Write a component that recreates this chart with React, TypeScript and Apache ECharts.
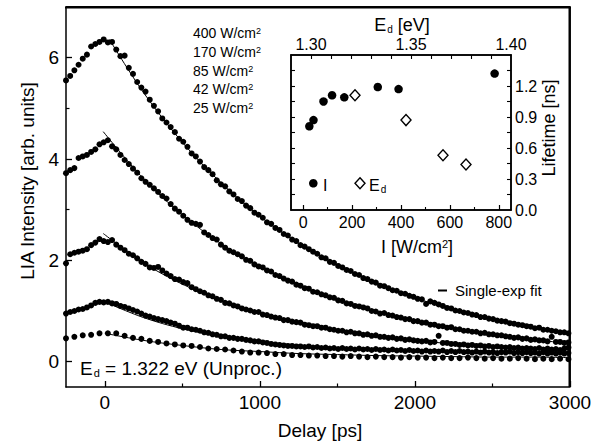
import { useEffect, useRef } from "react";
import * as echarts from "echarts";

const FONT = '"Liberation Sans", Arial, Helvetica, sans-serif';

// Delay grid (ps) of the four dense curves
const delays = [
  -250, -223, -196, -169, -142, -115, -88, -61, -34, -7,
  20, 47, 74, 101, 128, 155, 182, 209, 236, 263,
  290, 317, 344, 371, 398, 425, 452, 479, 506, 533,
  560, 587, 614, 641, 668, 695, 722, 749, 776, 803,
  830, 857, 884, 911, 938, 965, 992, 1019, 1046, 1073,
  1100, 1127, 1154, 1181, 1208, 1235, 1262, 1289, 1316, 1343,
  1370, 1397, 1424, 1451, 1478, 1505, 1532, 1559, 1586, 1613,
  1640, 1667, 1694, 1721, 1748, 1775, 1802, 1829, 1856, 1883,
  1910, 1937, 1964, 1991, 2018, 2045, 2072, 2099, 2126, 2153,
  2180, 2207, 2234, 2261, 2288, 2315, 2342, 2369, 2396, 2423,
  2450, 2477, 2504, 2531, 2558, 2585, 2612, 2639, 2666, 2693,
  2720, 2747, 2774, 2801, 2828, 2855, 2882, 2909, 2936, 2963,
  2990,
];

// Delay grid (ps) of the 25 W/cm2 curve
const delaysSparse = [
  -250, -196, -142, -88, -34, 20, 74, 128, 182, 236,
  290, 344, 398, 452, 506, 560, 614, 668, 722, 776,
  830, 884, 938, 992, 1046, 1100, 1154, 1208, 1262, 1316,
  1370, 1424, 1478, 1532, 1586, 1640, 1694, 1748, 1802, 1856,
  1910, 1964, 2018, 2072, 2126, 2180, 2234, 2288, 2342, 2396,
  2450, 2504, 2558, 2612, 2666, 2720, 2774, 2828, 2882, 2936,
  2990,
];

const lia400 = [
  5.55, 5.64, 5.75, 5.86, 5.98, 6.06, 6.22, 6.27, 6.31, 6.36,
  6.30, 6.31, 6.16, 6.03, 6.04, 5.80, 5.68, 5.52, 5.41, 5.33,
  5.17, 5.05, 4.94, 4.80, 4.72, 4.63, 4.53, 4.40, 4.34, 4.24,
  4.11, 4.05, 3.95, 3.84, 3.78, 3.70, 3.58, 3.50, 3.46, 3.36,
  3.30, 3.21, 3.17, 3.08, 3.03, 2.94, 2.90, 2.84, 2.75, 2.72,
  2.64, 2.60, 2.52, 2.49, 2.41, 2.38, 2.30, 2.27, 2.22, 2.17,
  2.13, 2.06, 2.04, 1.97, 1.95, 1.89, 1.86, 1.81, 1.79, 1.73,
  1.71, 1.65, 1.63, 1.58, 1.56, 1.50, 1.49, 1.45, 1.41, 1.40,
  1.35, 1.34, 1.30, 1.28, 1.24, 1.23, 1.14, 1.19, 1.16, 1.13,
  1.10, 1.06, 1.05, 1.01, 1.00, 0.97, 0.96, 0.93, 0.92, 0.88,
  0.88, 0.85, 0.84, 0.81, 0.80, 0.79, 0.76, 0.75, 0.73, 0.72,
  0.70, 0.69, 0.66, 0.67, 0.63, 0.63, 0.61, 0.60, 0.58, 0.58,
  0.56,
];

const lia170 = [
  3.72, 3.78, 3.82, 4.02, 4.05, 4.08, 4.14, 4.19, 4.29, 4.33,
  4.37, 4.25, 4.19, 4.08, 3.98, 3.90, 3.81, 3.73, 3.62, 3.55,
  3.49, 3.42, 3.35, 3.27, 3.22, 3.11, 3.02, 2.96, 2.88, 2.80,
  2.74, 2.72, 2.70, 2.55, 2.50, 2.44, 2.41, 2.31, 2.25, 2.19,
  2.16, 2.12, 2.08, 2.01, 1.99, 1.92, 1.88, 1.86, 1.80, 1.78,
  1.71, 1.69, 1.64, 1.60, 1.58, 1.52, 1.50, 1.45, 1.44, 1.38,
  1.37, 1.33, 1.31, 1.27, 1.26, 1.21, 1.20, 1.15, 1.14, 1.10,
  1.09, 1.07, 1.05, 1.00, 0.99, 0.95, 0.96, 0.92, 0.91, 0.88,
  0.87, 0.84, 0.84, 0.80, 0.80, 0.77, 0.77, 0.73, 0.73, 0.70,
  0.70, 0.67, 0.68, 0.64, 0.64, 0.61, 0.61, 0.59, 0.59, 0.56,
  0.57, 0.54, 0.54, 0.52, 0.52, 0.50, 0.49, 0.47, 0.48, 0.45,
  0.46, 0.43, 0.44, 0.42, 0.42, 0.40, 0.49, 0.39, 0.39, 0.37,
  0.38,
];

const lia85 = [
  1.94, 2.12, 2.15, 2.17, 2.19, 2.22, 2.30, 2.35, 2.42, 2.38,
  2.36, 2.40, 2.31, 2.25, 2.20, 2.13, 2.10, 2.04, 1.97, 1.93,
  1.86, 1.85, 1.87, 1.80, 1.74, 1.69, 1.63, 1.62, 1.57, 1.55,
  1.47, 1.43, 1.39, 1.36, 1.31, 1.29, 1.24, 1.22, 1.16, 1.15,
  1.11, 1.09, 1.05, 1.03, 1.01, 0.98, 0.98, 0.93, 0.92, 0.89,
  0.87, 0.86, 0.82, 0.82, 0.79, 0.78, 0.77, 0.73, 0.72, 0.70,
  0.70, 0.67, 0.67, 0.64, 0.63, 0.61, 0.61, 0.58, 0.59, 0.56,
  0.56, 0.53, 0.54, 0.51, 0.52, 0.49, 0.49, 0.47, 0.48, 0.45,
  0.46, 0.43, 0.44, 0.42, 0.41, 0.40, 0.41, 0.38, 0.39, 0.51,
  0.37, 0.37, 0.35, 0.35, 0.33, 0.34, 0.32, 0.33, 0.31, 0.32,
  0.30, 0.31, 0.29, 0.30, 0.29, 0.28, 0.29, 0.27, 0.28, 0.26,
  0.27, 0.26, 0.25, 0.27, 0.24, 0.26, 0.24, 0.25, 0.23, 0.26,
  0.28,
];

const lia42 = [
  0.95, 0.98, 1.00, 1.03, 1.04, 1.07, 1.11, 1.16, 1.18, 1.17,
  1.18, 1.15, 1.14, 1.10, 1.08, 1.05, 1.02, 0.99, 0.95, 0.91,
  0.89, 0.86, 0.84, 0.82, 0.80, 0.77, 0.75, 0.71, 0.67, 0.67,
  0.64, 0.63, 0.61, 0.58, 0.57, 0.54, 0.53, 0.50, 0.50, 0.47,
  0.47, 0.45, 0.45, 0.43, 0.42, 0.40, 0.40, 0.38, 0.37, 0.35,
  0.34, 0.33, 0.32, 0.31, 0.31, 0.30, 0.30, 0.29, 0.30, 0.28,
  0.29, 0.27, 0.28, 0.26, 0.27, 0.25, 0.27, 0.25, 0.26, 0.24,
  0.26, 0.24, 0.25, 0.23, 0.25, 0.23, 0.24, 0.22, 0.24, 0.22,
  0.23, 0.21, 0.23, 0.21, 0.22, 0.20, 0.22, 0.20, 0.21, 0.20,
  0.22, 0.19, 0.21, 0.19, 0.21, 0.19, 0.20, 0.18, 0.20, 0.18,
  0.20, 0.18, 0.19, 0.17, 0.19, 0.18, 0.20, 0.17, 0.19, 0.17,
  0.19, 0.17, 0.18, 0.16, 0.19, 0.16, 0.18, 0.16, 0.18, 0.16,
  0.17,
];

const lia25 = [
  0.46, 0.49, 0.52, 0.53, 0.56, 0.56, 0.56, 0.51, 0.47, 0.45,
  0.41, 0.39, 0.36, 0.34, 0.32, 0.31, 0.29, 0.26, 0.25, 0.24,
  0.22, 0.20, 0.18, 0.18, 0.17, 0.15, 0.15, 0.13, 0.13, 0.12,
  0.12, 0.11, 0.11, 0.10, 0.11, 0.10, 0.09, 0.10, 0.09, 0.09,
  0.08, 0.09, 0.08, 0.08, 0.07, 0.08, 0.07, 0.07, 0.08, 0.07,
  0.06, 0.07, 0.06, 0.06, 0.07, 0.06, 0.05, 0.06, 0.05, 0.06,
  0.05,
];

// Single-exponential fit curves
const fitDelays = [0, 250, 500, 750, 1000, 1250, 1500, 1750, 2000, 2250, 2500, 2750, 3000];
const fitStart = [30, -10, -10, 0, 0];
const fit400 = [6.36, 5.31, 4.33, 3.53, 2.87, 2.34, 1.91, 1.55, 1.26, 1.03, 0.84, 0.68, 0.56];
const fit170 = [4.54, 3.61, 2.9, 2.33, 1.88, 1.52, 1.22, 0.99, 0.8, 0.66, 0.54, 0.44, 0.36];
const fit85 = [2.53, 1.95, 1.53, 1.21, 0.96, 0.77, 0.62, 0.51, 0.42, 0.35, 0.3, 0.26, 0.23];
const fit42 = [1.18, 0.87, 0.65, 0.5, 0.4, 0.32, 0.27, 0.23, 0.21, 0.19, 0.18, 0.17, 0.16];
const fit25 = [0.56, 0.42, 0.32, 0.24, 0.2, 0.16, 0.14, 0.12, 0.11, 0.1, 0.09, 0.09, 0.08];

const powerLabels = ["400", "170", "85", "42", "25"];

// Inset data
const insetPower = [25, 42, 83, 118, 168, 305, 390, 783];
const insetLifetimeI = [0.81, 0.87, 1.05, 1.11, 1.09, 1.19, 1.17, 1.32];
const insetEd = [1.322, 1.3475, 1.366, 1.3775];
const insetLifetimeEd = [1.11, 0.87, 0.53, 0.44];

// Axis extents and tick values
const X_MIN = -250;
const X_MAX = 3000;
const Y_MIN = -0.5;
const Y_MAX = 7;
const xMajor = [0, 1000, 2000, 3000];
const xMinor = [500, 1500, 2500];
const yMajor = [0, 2, 4, 6];
const yMinor = [1, 3, 5];
const iMajor = [0, 200, 400, 600, 800];
const iMinor = [100, 300, 500, 700];
const eLabels = [1.3, 1.35, 1.4];
const eTicks = [1.3, 1.31, 1.32, 1.33, 1.34, 1.35, 1.36, 1.37, 1.38, 1.39];
const ltLabels = [0, 0.3, 0.6, 0.9, 1.2];
const ltTicks = [0.15, 0.3, 0.45, 0.6, 0.75, 0.9, 1.05, 1.2, 1.35];

const BLACK = "#000";
const MAIN = { left: 66, top: 7, width: 504, height: 380 };
const INSET = { left: 291, top: 55, width: 220, height: 155 };
const axisLine = { show: true, onZero: false, lineStyle: { color: BLACK, width: 1.5 } };

function tickAxis(extra: any) {
  return {
    type: "value",
    axisLine: { ...axisLine },
    splitLine: { show: false },
    ...extra,
  };
}

function buildOption() {
  const pts = (xs: number[], ys: number[]) => xs.map((x, i) => [x, ys[i]]);
  const mainSets = [
    pts(delays, lia400),
    pts(delays, lia170),
    pts(delays, lia85),
    pts(delays, lia42),
    pts(delaysSparse, lia25),
  ];
  const fits = [fit400, fit170, fit85, fit42, fit25].map((f, k) =>
    f.map((v, i) => [i === 0 ? fitStart[k] : fitDelays[i], v])
  );

  const lblStyle = (size: number, extra: any = {}) => ({
    fontSize: size,
    fontFamily: FONT,
    color: BLACK,
    ...extra,
  });
  const plain = (v: number) => String(v);

  const xAxis = [
    tickAxis({
      gridIndex: 0, min: X_MIN, max: X_MAX, position: "bottom",
      axisTick: { show: true, inside: true, length: 6, customValues: xMajor, lineStyle: { color: BLACK, width: 1.3 } },
      axisLabel: lblStyle(19, { customValues: xMajor, margin: 6, formatter: plain }),
    }),
    tickAxis({
      gridIndex: 0, min: X_MIN, max: X_MAX, position: "bottom",
      axisLine: { show: false, onZero: false },
      axisTick: { show: true, inside: true, length: 3.5, customValues: xMinor, lineStyle: { color: BLACK, width: 1.2 } },
      axisLabel: { show: false },
    }),
    tickAxis({
      gridIndex: 1, min: -50, max: 850, position: "bottom",
      axisTick: { show: true, inside: true, length: 5, customValues: iMajor, lineStyle: { color: BLACK, width: 1.2 } },
      axisLabel: lblStyle(16, { customValues: iMajor, margin: 4, formatter: plain }),
    }),
    tickAxis({
      gridIndex: 1, min: -50, max: 850, position: "bottom",
      axisLine: { show: false, onZero: false },
      axisTick: { show: true, inside: true, length: 3, customValues: iMinor, lineStyle: { color: BLACK, width: 1.1 } },
      axisLabel: { show: false },
    }),
    tickAxis({
      gridIndex: 1, min: 1.29, max: 1.4, position: "top",
      axisTick: { show: true, inside: true, length: 4, customValues: eTicks, lineStyle: { color: BLACK, width: 1.1 } },
      axisLabel: lblStyle(16, { customValues: eLabels, margin: 3, formatter: (v: number) => v.toFixed(2) }),
    }),
  ];

  const yAxis = [
    tickAxis({
      gridIndex: 0, min: Y_MIN, max: Y_MAX, position: "left",
      axisTick: { show: true, inside: true, length: 6, customValues: yMajor, lineStyle: { color: BLACK, width: 1.3 } },
      axisLabel: lblStyle(19, { customValues: yMajor, margin: 7, formatter: plain }),
    }),
    tickAxis({
      gridIndex: 0, min: Y_MIN, max: Y_MAX, position: "left",
      axisLine: { show: false, onZero: false },
      axisTick: { show: true, inside: true, length: 3.5, customValues: yMinor, lineStyle: { color: BLACK, width: 1.2 } },
      axisLabel: { show: false },
    }),
    tickAxis({
      gridIndex: 1, min: 0, max: 1.5, position: "right",
      axisTick: { show: true, inside: true, length: 4, customValues: ltTicks, lineStyle: { color: BLACK, width: 1.1 } },
      axisLabel: lblStyle(16, { customValues: ltLabels, margin: 4, formatter: (v: number) => v.toFixed(1) }),
    }),
    tickAxis({
      gridIndex: 1, min: 0, max: 1.5, position: "left",
      axisTick: { show: true, inside: true, length: 4, customValues: ltTicks, lineStyle: { color: BLACK, width: 1.1 } },
      axisLabel: { show: false },
    }),
  ];

  const series: any[] = [];
  // top + right frame of the main plot, drawn along the axis extents
  series.push({
    type: "line", xAxisIndex: 0, yAxisIndex: 0, clip: false, silent: true, z: 6,
    data: [[X_MIN, Y_MAX], [X_MAX, Y_MAX], [X_MAX, Y_MIN]],
    symbol: "none", showSymbol: false,
    lineStyle: { color: BLACK, width: 1.8, opacity: 1 },
  });
  mainSets.forEach((d) => {
    series.push({
      type: "scatter", xAxisIndex: 0, yAxisIndex: 0, data: d, symbol: "circle",
      symbolSize: 6, itemStyle: { color: BLACK, opacity: 1 }, silent: true, z: 2,
    });
  });
  fits.forEach((d) => {
    series.push({
      type: "line", xAxisIndex: 0, yAxisIndex: 0, data: d, smooth: 0.35, showSymbol: false,
      symbol: "none", lineStyle: { color: BLACK, width: 1, opacity: 1 }, silent: true, z: 3,
    });
  });
  series.push({
    type: "scatter", xAxisIndex: 2, yAxisIndex: 2, data: pts(insetPower, insetLifetimeI),
    symbol: "circle", symbolSize: 8.5, itemStyle: { color: BLACK, opacity: 1 }, silent: true, z: 4,
  });
  series.push({
    type: "scatter", xAxisIndex: 4, yAxisIndex: 2, data: pts(insetEd, insetLifetimeEd),
    symbol: "diamond", symbolSize: [10, 11],
    itemStyle: { color: "#fff", borderColor: BLACK, borderWidth: 1.4, opacity: 1 }, silent: true, z: 4,
  });

  const txt = (x: number, y: number, text: string, size: number, extra: any = {}, rich?: any, rotation = 0) => ({
    type: "text", x, y, z: 100, silent: true, rotation,
    style: {
      text, fontSize: size, fontFamily: FONT, fill: BLACK,
      align: "left", verticalAlign: "middle", ...(rich ? { rich } : {}), ...extra,
    },
  });
  const seg = (x1: number, y1: number, x2: number, y2: number, w: number) => ({
    type: "line", z: 100, silent: true,
    shape: { x1, y1, x2, y2 },
    style: { stroke: BLACK, lineWidth: w, fill: null },
  });

  const powerRich = {
    n: { fontSize: 14, fontFamily: FONT, fill: BLACK },
    s: { fontSize: 9, fontFamily: FONT, fill: BLACK, verticalAlign: "top" },
  };
  const powerY = [33, 52, 71, 89, 108];
  const sub = (size: number, drop: number) => ({
    fontSize: size, fontFamily: FONT, fill: BLACK, verticalAlign: "middle", padding: [drop, 0, 0, 1],
  });
  const R = MAIN.left + MAIN.width;
  const B = MAIN.top + MAIN.height;

  const graphic: any[] = [
    seg(MAIN.left - 1, MAIN.top + 0.5, R + 1, MAIN.top + 0.5, 2),
    seg(R - 0.5, MAIN.top, R - 0.5, B, 2),
    ...powerLabels.map((p, i) => txt(193, powerY[i], `{n|${p} W/cm}{s|2}`, 14, {}, powerRich)),
    txt(80, 368, "{n|E}{d|d}{n| = 1.322 eV (Unproc.)}", 19, {}, {
      n: { fontSize: 19, fontFamily: FONT, fill: BLACK },
      d: sub(11, 10),
    }),
    seg(438, 290.5, 447, 290.5, 2),
    txt(455, 290.5, "Single-exp fit", 15),
    txt(27, 181, "LIA Intensity [arb. units]", 19, { align: "center" }, undefined, Math.PI / 2),
    txt(320, 430, "Delay [ps]", 19, { align: "center" }),
    txt(402, 25, "{n|E}{d|d}{n| [eV]}", 18, { align: "center" }, {
      n: { fontSize: 18, fontFamily: FONT, fill: BLACK },
      d: sub(10, 9),
    }),
    txt(417, 247, "{n|I [W/cm}{s|2}{n|]}", 18, { align: "center" }, {
      n: { fontSize: 18, fontFamily: FONT, fill: BLACK },
      s: { fontSize: 11, fontFamily: FONT, fill: BLACK, verticalAlign: "top" },
    }),
    txt(549, 128, "Lifetime [ns]", 18, { align: "center" }, undefined, Math.PI / 2),
    {
      type: "circle", z: 100, silent: true,
      shape: { cx: 313.3, cy: 183.3, r: 4.3 },
      style: { fill: BLACK },
    },
    txt(323, 185, "I", 16),
    {
      type: "polygon", z: 100, silent: true,
      shape: { points: [[360, 177.8], [365, 183.3], [360, 188.8], [355, 183.3]] },
      style: { fill: "#fff", stroke: BLACK, lineWidth: 1.4 },
    },
    txt(369, 185, "{n|E}{d|d}", 16, {}, {
      n: { fontSize: 16, fontFamily: FONT, fill: BLACK },
      d: sub(10, 8),
    }),
  ];

  return {
    animation: false,
    backgroundColor: "#fff",
    textStyle: { fontFamily: FONT, color: BLACK },
    grid: [
      { ...MAIN, show: false, containLabel: false, outerBoundsMode: "none" },
      {
        ...INSET, show: true, borderColor: BLACK,
        borderWidth: 1.5, backgroundColor: "#fff", containLabel: false, outerBoundsMode: "none",
      },
    ],
    xAxis,
    yAxis,
    series,
    graphic,
  };
}

export default function App() {
  const ref = useRef<HTMLDivElement>(null);
  useEffect(() => {
    if (!ref.current) return;
    const chart = echarts.init(ref.current, null, { renderer: "svg" });
    chart.setOption(buildOption() as any);
    return () => chart.dispose();
  }, []);
  return (
    <div
      ref={ref}
      style={{ position: "fixed", left: 0, top: 0, width: 602, height: 445, background: "#fff" }}
    />
  );
}
